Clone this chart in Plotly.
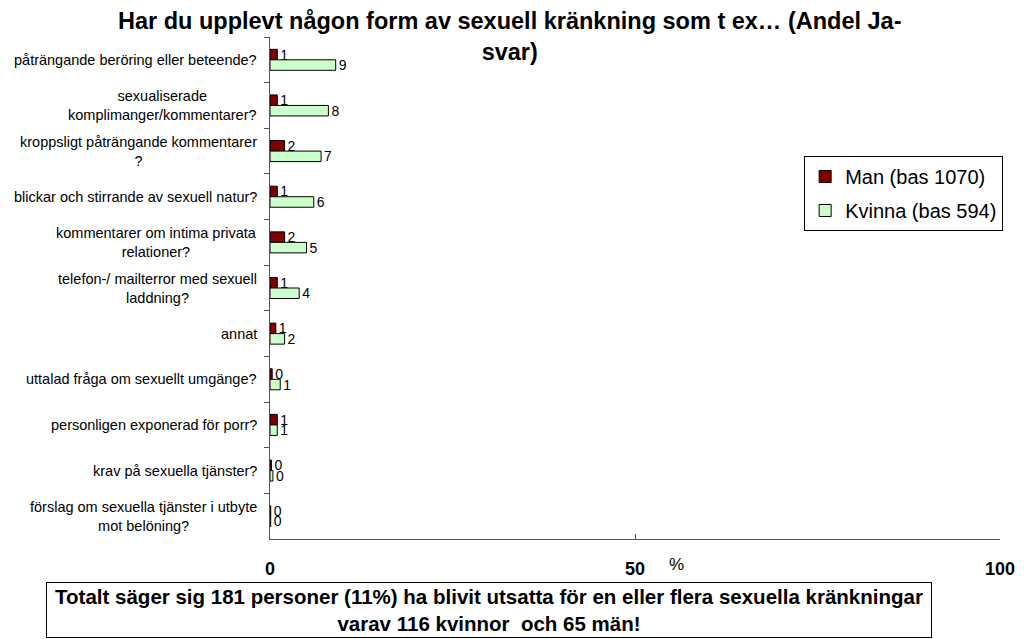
import plotly.graph_objects as go

categories = [
    "påträngande beröring eller beteende?",
    "sexualiserade<br>komplimanger/kommentarer?",
    "kroppsligt påträngande kommentarer<br>?",
    "blickar och stirrande av sexuell natur?",
    "kommentarer om intima privata<br>relationer?",
    "telefon-/ mailterror med sexuell<br>laddning?",
    "annat",
    "uttalad fråga om sexuellt umgänge?",
    "personligen exponerad för porr?",
    "krav på sexuella tjänster?",
    "förslag om sexuella tjänster i utbyte<br>mot belöning?",
]
man_values = [1.0, 1.0, 2.0, 1.0, 2.0, 1.0, 0.8, 0.3, 1.0, 0.2, 0.1]
kvinna_values = [9.0, 8.0, 7.0, 6.0, 5.0, 4.0, 2.0, 1.4, 1.0, 0.4, 0.1]
man_labels = ["1", "1", "2", "1", "2", "1", "1", "0", "1", "0", "0"]
kvinna_labels = ["9", "8", "7", "6", "5", "4", "2", "1", "1", "0", "0"]
x_ticks = [0, 50, 100]
x_ticktext = ["0", "50", "100"]

title_text = "Har du upplevt någon form av sexuell kränkning som t ex… (Andel Ja-<br>svar)"
note_text = ("Totalt säger sig 181 personer (11%) ha blivit utsatta för en eller flera sexuella kränkningar"
             "<br>varav 116 kvinnor  och 65 män!")

FONT = "Arial, Liberation Sans, sans-serif"

fig = go.Figure()
fig.add_trace(go.Bar(
    y=categories, x=man_values, orientation="h", name="Man (bas 1070)",
    marker=dict(color="#800000", line=dict(color="black", width=1)),
    text=man_labels, textposition="outside", cliponaxis=False, constraintext="none",
    textfont=dict(family=FONT, size=14, color="black"),
    legendgroup="m",
))
fig.add_trace(go.Bar(
    y=categories, x=kvinna_values, orientation="h", name="Kvinna (bas 594)",
    marker=dict(color="#CCFFCC", line=dict(color="black", width=1)),
    text=kvinna_labels, textposition="outside", cliponaxis=False, constraintext="none",
    textfont=dict(family=FONT, size=14, color="black"),
    legendgroup="k",
))

annotations = []
for c in categories:
    annotations.append(dict(
        x=0, xref="paper", y=c, yref="y", text=c, showarrow=False,
        xanchor="right", yanchor="middle", align="center", xshift=-11,
        font=dict(family=FONT, size=14.5, color="black"),
    ))
annotations.append(dict(
    x=0.3293, xref="paper", y=(539 - 6) / 502, yref="paper", text=title_text, showarrow=False,
    xanchor="center", yanchor="top", align="center",
    font=dict(family=FONT, size=23.5, color="black", weight="bold"),
))
annotations.append(dict(
    x=0.557, xref="paper", y=-0.05, yref="paper", text="%", showarrow=False,
    xanchor="center", yanchor="middle", font=dict(family=FONT, size=17, color="black"),
))
annotations.append(dict(
    x=0.2995, xref="paper", y=-0.1414, yref="paper", text=note_text, showarrow=False,
    xanchor="center", yanchor="middle", align="center",
    width=882, height=52, bordercolor="black", borderwidth=1, bgcolor="white",
    font=dict(family=FONT, size=20.5, color="black", weight="bold"),
))

fig.update_layout(
    width=1027, height=639,
    margin=dict(l=270, r=19, t=37, b=100, pad=0),
    paper_bgcolor="white", plot_bgcolor="white",
    barmode="group", bargap=0.54, bargroupgap=0,
    legend=dict(x=0.7317, y=0.763, xanchor="left", yanchor="top",
                bordercolor="black", borderwidth=1, bgcolor="white",
                traceorder="grouped", tracegroupgap=5, itemwidth=30,
                font=dict(family=FONT, size=20, color="black")),
    annotations=annotations,
    xaxis=dict(range=[0, 100], tickvals=x_ticks, ticktext=x_ticktext,
               showgrid=False, zeroline=False, showline=True, linecolor="#555", linewidth=1,
               ticks="inside", ticklen=5, tickcolor="#555", ticklabelstandoff=13,
               tickfont=dict(family=FONT, size=18, color="black", weight="bold")),
    yaxis=dict(type="category", range=[10.5, -0.5], showticklabels=False,
               showgrid=False, zeroline=False, showline=True, linecolor="#555", linewidth=1,
               ticks="outside", ticklen=5, tickcolor="#555", tickson="boundaries"),
    showlegend=True,
)

fig.write_html("out.html", config={"displayModeBar": False},
               post_script="document.body.style.margin='0';document.body.style.overflow='hidden';")
